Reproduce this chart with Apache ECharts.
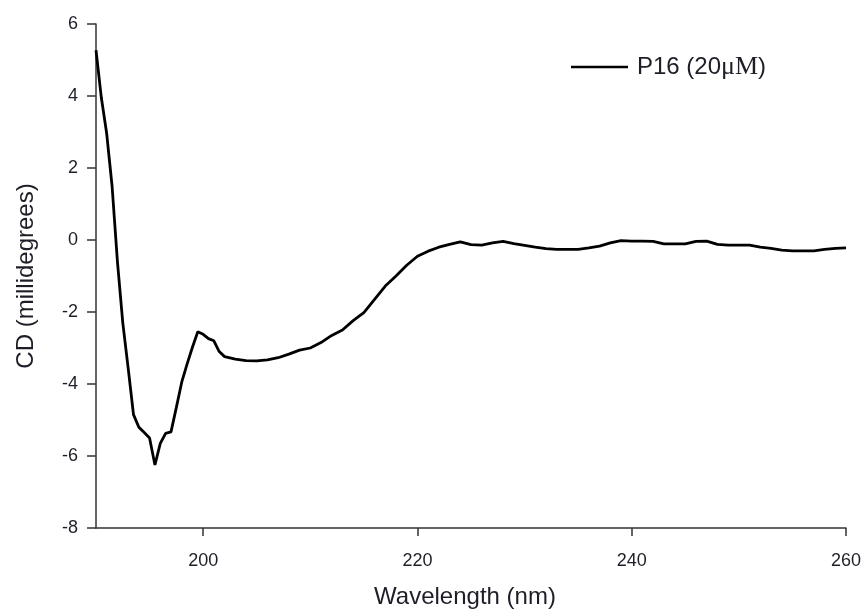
<!DOCTYPE html>
<html>
<head>
<meta charset="utf-8">
<script src="https://cdn.jsdelivr.net/npm/echarts@6/dist/echarts.min.js"></script>
<style>
  html, body { margin: 0; padding: 0; background: #fff; }
  #chart { width: 864px; height: 612px; }
</style>
</head>
<body>
<div id="chart"></div>
<script>
// Circular dichroism spectrum of peptide P16
const wavelengths = [
  190, 190.5, 191, 191.5, 192, 192.5, 193, 193.5, 194, 194.5,
  195, 195.5, 196, 196.5, 197, 197.5, 198, 198.5, 199, 199.5,
  200, 200.5, 201, 201.5, 202, 203, 204, 205, 206, 207,
  208, 209, 210, 211, 212, 213, 214, 215, 216, 217,
  218, 219, 220, 221, 222, 223, 224, 225, 226, 227,
  228, 229, 230, 231, 232, 233, 234, 235, 236, 237,
  238, 239, 240, 241, 242, 243, 244, 245, 246, 247,
  248, 249, 250, 251, 252, 253, 254, 255, 256, 257,
  258, 259, 260
];
const cdP16 = [
  5.27, 3.95, 2.95, 1.50, -0.60, -2.30, -3.55, -4.85, -5.20, -5.35,
  -5.50, -6.25, -5.65, -5.37, -5.33, -4.65, -3.95, -3.45, -2.98, -2.55,
  -2.62, -2.74, -2.80, -3.10, -3.24, -3.31, -3.35, -3.36, -3.33, -3.27,
  -3.17, -3.06, -3.00, -2.85, -2.65, -2.50, -2.24, -2.02, -1.65, -1.28,
  -1.00, -0.70, -0.45, -0.31, -0.20, -0.12, -0.05, -0.13, -0.14, -0.08,
  -0.04, -0.10, -0.15, -0.20, -0.24, -0.26, -0.26, -0.26, -0.22, -0.17,
  -0.08, -0.02, -0.03, -0.03, -0.04, -0.11, -0.11, -0.11, -0.04, -0.03,
  -0.12, -0.14, -0.14, -0.14, -0.20, -0.23, -0.28, -0.30, -0.30, -0.30,
  -0.26, -0.23, -0.22
];
const xTicks = [200, 220, 240, 260];
const seriesName = 'P16 (20μM)';

const axisColor = '#333';
const textColor = '#1e1e28';
const sans = 'Liberation Sans, Arial, sans-serif';
const serif = 'Liberation Serif, Times New Roman, serif';

const chart = echarts.init(document.getElementById('chart'), null, { renderer: 'canvas' });
chart.setOption({
  backgroundColor: '#fff',
  animation: false,
  grid: { left: 96, right: 18, top: 24, bottom: 84, containLabel: false, outerBoundsMode: 'none' },
  legend: {
    left: 566,
    top: 49,
    icon: 'rect',
    itemWidth: 57,
    itemHeight: 2.5,
    data: [seriesName],
    formatter: function () {
      return '{a|P16 (20}{b|μM}{a|)}';
    },
    textStyle: {
      padding: [0, 0, 0, 4],
      rich: {
        a: { fontFamily: sans, fontSize: 24, lineHeight: 26, color: textColor },
        b: { fontFamily: serif, fontSize: 26, lineHeight: 26, color: textColor }
      }
    }
  },
  xAxis: {
    type: 'value',
    min: 190,
    max: 260,
    name: 'Wavelength (nm)',
    nameLocation: 'middle',
    nameGap: 57,
    nameTextStyle: { fontFamily: sans, fontSize: 24, color: textColor, padding: [0, 12, 0, 0] },
    axisLine: { onZero: false, lineStyle: { color: axisColor, width: 1.5 } },
    axisTick: { show: true, inside: false, length: 8, customValues: xTicks, lineStyle: { color: axisColor, width: 1.5 } },
    axisLabel: { customValues: xTicks, margin: 24, fontFamily: sans, fontSize: 18, color: textColor },
    splitLine: { show: false }
  },
  yAxis: {
    type: 'value',
    min: -8,
    max: 6,
    interval: 2,
    name: 'CD (millidegrees)',
    nameLocation: 'middle',
    nameGap: 58,
    nameTextStyle: { fontFamily: sans, fontSize: 24, color: textColor },
    axisLine: { onZero: false, lineStyle: { color: axisColor, width: 1.5 } },
    axisTick: { show: true, inside: false, length: 9, lineStyle: { color: axisColor, width: 1.5 } },
    axisLabel: { margin: 18, fontFamily: sans, fontSize: 18, color: textColor },
    splitLine: { show: false }
  },
  series: [{
    name: seriesName,
    type: 'line',
    data: wavelengths.map((w, i) => [w, cdP16[i]]),
    symbol: 'none',
    smooth: false,
    lineStyle: { color: '#000', width: 2.8 },
    itemStyle: { color: '#000' }
  }]
});
</script>
</body>
</html>
